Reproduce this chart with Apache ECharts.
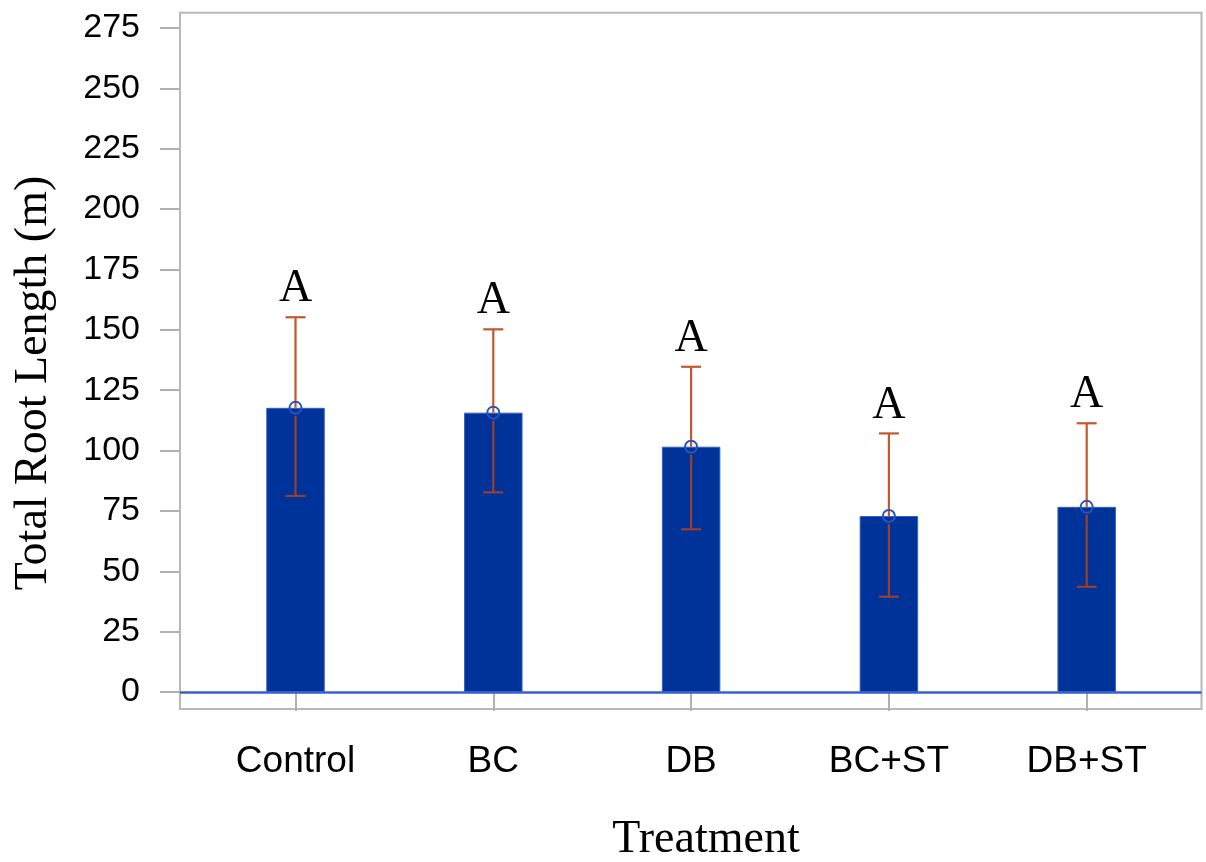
<!DOCTYPE html>
<html>
<head>
<meta charset="utf-8">
<script src="https://cdn.jsdelivr.net/npm/echarts@6/dist/echarts.min.js"></script>
<style>
html,body{margin:0;padding:0;background:#fff;}
#chart{width:1206px;height:862px;}
</style>
</head>
<body>
<div id="chart"></div>
<script>
var categories = ['Control', 'BC', 'DB', 'BC+ST', 'DB+ST'];
var meanValues = [117.7, 115.7, 101.6, 72.9, 76.7];
var upperValues = [155.2, 150.2, 134.7, 107.1, 111.3];
var lowerValues = [81.2, 82.7, 67.4, 39.5, 43.6];
var letters = ['A', 'A', 'A', 'A', 'A'];
var yTicks = [0, 25, 50, 75, 100, 125, 150, 175, 200, 225, 250, 275];

var chart = echarts.init(document.getElementById('chart'), null, {renderer: 'canvas'});

var errData = categories.map(function (c, i) {
  return [i, meanValues[i], lowerValues[i], upperValues[i], letters[i]];
});

var option = {
  backgroundColor: '#ffffff',
  animation: false,
  grid: [
    {left: 196.6, right: 20.4, top: 12.7, bottom: 153, containLabel: false},
    {left: 180, right: 4.5, top: 12.7, bottom: 153, show: true, borderColor: '#b8b8b8', borderWidth: 2, backgroundColor: 'transparent'}
  ],
  xAxis: [
    {
      type: 'category', gridIndex: 0, data: categories,
      boundaryGap: true,
      axisLine: {show: false},
      axisTick: {show: true, alignWithLabel: true, length: 19, lineStyle: {color: '#b0b0b0', width: 2}},
      axisLabel: {margin: 34, fontFamily: 'Liberation Sans, Arial, sans-serif', fontSize: 37, color: '#000'}
    },
    {type: 'value', gridIndex: 1, min: 0, max: 1, show: false}
  ],
  yAxis: [
    {
      type: 'value', gridIndex: 0, min: -7.0, max: 281.3, offset: 16.6,
      axisLine: {show: false},
      splitLine: {show: false},
      axisTick: {show: true, length: 20, customValues: yTicks, lineStyle: {color: '#b0b0b0', width: 2}},
      axisLabel: {margin: 40, customValues: yTicks, fontFamily: 'Liberation Sans, Arial, sans-serif', fontSize: 34, color: '#000'}
    },
    {type: 'value', gridIndex: 1, min: -7.0, max: 281.3, show: false}
  ],
  graphic: [
    {
      type: 'text', x: 34, y: 383, rotation: Math.PI / 2,
      style: {text: 'Total Root Length (m)', font: '46px "Liberation Serif", "Times New Roman", serif', fill: '#000', align: 'center', verticalAlign: 'middle'}
    },
    {
      type: 'text', x: 706, y: 840,
      style: {text: 'Treatment', font: '46px "Liberation Serif", "Times New Roman", serif', fill: '#000', align: 'center', verticalAlign: 'middle'}
    }
  ],
  series: [
    {
      type: 'bar', xAxisIndex: 0, yAxisIndex: 0,
      data: meanValues, barWidth: 58.5,
      itemStyle: {color: '#003399', borderColor: '#3560c0', borderWidth: 1},
      z: 2
    },
    {
      type: 'line', xAxisIndex: 1, yAxisIndex: 1, data: [], symbol: 'none',
      markLine: {
        silent: true, symbol: 'none', label: {show: false},
        lineStyle: {color: '#3a5fcd', width: 2.5, type: 'solid'},
        data: [{yAxis: 0}]
      },
      z: 3
    },
    {
      type: 'custom', xAxisIndex: 0, yAxisIndex: 0,
      data: errData, z: 5,
      renderItem: function (params, api) {
        var i = api.value(0);
        var m = api.coord([i, api.value(1)]);
        var lo = api.coord([i, api.value(2)]);
        var hi = api.coord([i, api.value(3)]);
        var x = m[0];
        var cw = 10;
        var lc = '#c2582b';
        var dc = '#9a3f2c';
        var r = 6;
        return {
          type: 'group',
          children: [
            {type: 'line', shape: {x1: x, y1: hi[1], x2: x, y2: m[1]}, style: {stroke: lc, lineWidth: 2.2}},
            {type: 'line', shape: {x1: x, y1: m[1] + r + 2, x2: x, y2: lo[1]}, style: {stroke: dc, lineWidth: 2.2}},
            {type: 'line', shape: {x1: x - cw, y1: hi[1], x2: x + cw, y2: hi[1]}, style: {stroke: lc, lineWidth: 2.2}},
            {type: 'line', shape: {x1: x - cw, y1: lo[1], x2: x + cw, y2: lo[1]}, style: {stroke: dc, lineWidth: 2.2}},
            {type: 'circle', shape: {cx: x, cy: m[1], r: r}, style: {fill: 'none', stroke: '#2a52be', lineWidth: 2}},
            {type: 'text', x: x, y: hi[1] - 5, style: {text: api.value(4), font: '46px "Liberation Serif", "Times New Roman", serif', fill: '#000', align: 'center', verticalAlign: 'bottom'}}
          ]
        };
      }
    }
  ]
};
chart.setOption(option);
</script>
</body>
</html>
